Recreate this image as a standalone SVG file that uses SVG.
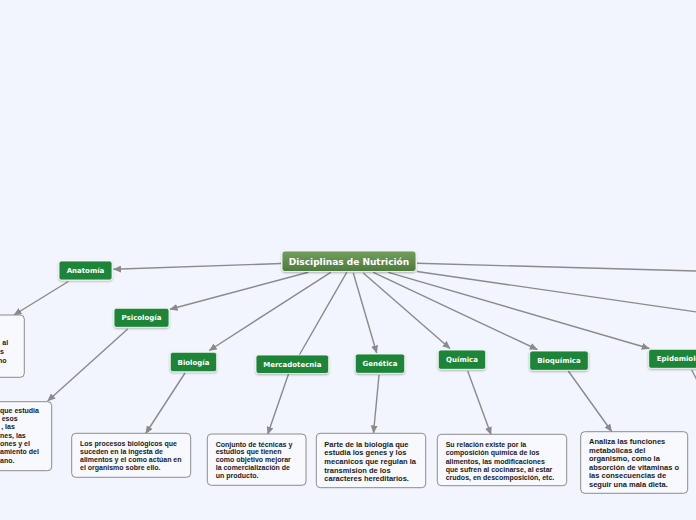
<svg xmlns="http://www.w3.org/2000/svg" width="696" height="520" viewBox="0 0 696 520">
<defs>
<linearGradient id="gc" x1="0" y1="0" x2="0" y2="1">
<stop offset="0" stop-color="#739f60"/>
<stop offset="1" stop-color="#4c7a3b"/>
</linearGradient>
<filter id="sh" x="-20%" y="-30%" width="140%" height="170%">
<feDropShadow dx="0" dy="1" stdDeviation="0.8" flood-color="#000" flood-opacity="0.3"/>
</filter>
<marker id="ar" markerUnits="userSpaceOnUse" markerWidth="8" markerHeight="7" refX="7.5" refY="3.5" orient="auto">
<path d="M0,0 L8,3.5 L0,7 z" fill="#8a8a8a"/>
</marker>
<style>
.c{fill:none;stroke:#8a8a8a;stroke-width:1.4}
.n{fill:#1d8537;stroke:#ffffff;stroke-width:0.8;filter:url(#sh)}
.nt{font-family:"DejaVu Sans",Verdana,sans-serif;font-weight:bold;font-size:7px;fill:#ffffff;text-anchor:middle}
.b{fill:#f8f9fe;stroke:#8c8c8c;stroke-width:1}
.bt{font-family:"Liberation Sans",Arial,sans-serif;font-weight:bold;font-size:7px;fill:#1a1a1a}
.bt2{font-family:"Liberation Sans",Arial,sans-serif;font-weight:bold;font-size:7.5px;fill:#1a1a1a}
</style>
</defs>
<rect width="696" height="520" fill="#f2f5fe"/>
<g id="connectors">
<path class="c" d="M281,263.5 L113.5,269.3" marker-end="url(#ar)"/>
<path class="c" d="M308.3,272.3 L170,309.3" marker-end="url(#ar)"/>
<path class="c" d="M330.7,272.3 L209.3,350.5" marker-end="url(#ar)"/>
<path class="c" d="M346.7,272.3 L299.3,355"/>
<path class="c" d="M353.3,273 L376.7,353" marker-end="url(#ar)"/>
<path class="c" d="M363.3,273 L450,348.5" marker-end="url(#ar)"/>
<path class="c" d="M373.3,272.3 L537.3,349.5" marker-end="url(#ar)"/>
<path class="c" d="M388.3,272.3 L649.3,348.5" marker-end="url(#ar)"/>
<path class="c" d="M417,263.3 L697,271"/>
<path class="c" d="M417,271.5 L697,312"/>
<path class="c" d="M68.3,281.5 L14,315" marker-end="url(#ar)"/>
<path class="c" d="M127.7,329 L47.7,401" marker-end="url(#ar)"/>
<path class="c" d="M185,373 L145.7,433.5" marker-end="url(#ar)"/>
<path class="c" d="M288.5,374 L267.7,434.3" marker-end="url(#ar)"/>
<path class="c" d="M379,375 L373.5,433" marker-end="url(#ar)"/>
<path class="c" d="M467.7,371 L491,434.5" marker-end="url(#ar)"/>
<path class="c" d="M568.3,371 L611.7,431.5" marker-end="url(#ar)"/>
<path class="c" d="M691.7,370 L698,382"/>
</g>
<g id="center">
<rect x="282" y="251" width="134" height="20.5" rx="3" fill="url(#gc)" stroke="#ffffff" stroke-width="0.8" filter="url(#sh)"/>
<text x="349" y="264.5" font-family="'DejaVu Sans',Verdana,sans-serif" font-weight="bold" font-size="9px" fill="#ffffff" text-anchor="middle">Disciplinas de Nutrición</text>
</g>
<g id="anatomia">
<rect class="n" x="59" y="261" width="53" height="19" rx="2.5"/>
<text class="nt" x="85.5" y="273">Anatomía</text>
</g>
<g id="anatomia-desc">
<rect class="b" x="-90" y="315" width="114.3" height="62.3" rx="4"/>
<text class="bt" x="2.3" y="344.8">al</text>
<text class="bt" x="0" y="354">s</text>
<text class="bt" x="-2" y="362.5">no</text>
</g>
<g id="psicologia">
<rect class="n" x="114" y="308.3" width="55" height="19" rx="2.5"/>
<text class="nt" x="141.5" y="320.3">Psicología</text>
</g>
<g id="psicologia-desc">
<rect class="b" x="-60" y="401.7" width="111.7" height="69" rx="4"/>
<text class="bt" x="0" y="412.5">que estudia</text>
<text class="bt" x="1.7" y="420.8">esos</text>
<text class="bt" x="1.2" y="429.2">, las</text>
<text class="bt" x="0" y="437.5">nes, las</text>
<text class="bt" x="0" y="445.8">ones y el</text>
<text class="bt" x="0" y="454.2">amiento del</text>
<text class="bt" x="0" y="462.5">ano.</text>
</g>
<g id="biologia">
<rect class="n" x="170.3" y="352.3" width="46.4" height="19.4" rx="2.5"/>
<text class="nt" x="193.5" y="364.5">Biología</text>
</g>
<g id="biologia-desc">
<rect class="b" x="71.7" y="433.3" width="119" height="44" rx="4"/>
<text class="bt" x="80" y="445.8">Los procesos biológicos que</text>
<text class="bt" x="80" y="453.8">suceden en la ingesta de</text>
<text class="bt" x="80" y="461.9">alimentos y el como actúan en</text>
<text class="bt" x="80" y="470.2">el organismo sobre ello.</text>
</g>
<g id="mercadotecnia">
<rect class="n" x="256" y="355" width="72.7" height="18.5" rx="2.5"/>
<text class="nt" x="292.3" y="366.8">Mercadotecnia</text>
</g>
<g id="mercadotecnia-desc">
<rect class="b" x="207.3" y="434" width="98.7" height="51.3" rx="4"/>
<text class="bt" x="215.7" y="446.5">Conjunto de técnicas y</text>
<text class="bt" x="215.7" y="454.4">estudios que tienen</text>
<text class="bt" x="215.7" y="462.2">como objetivo mejorar</text>
<text class="bt" x="215.7" y="470.2">la comercialización de</text>
<text class="bt" x="215.7" y="478.2">un producto.</text>
</g>
<g id="genetica">
<rect class="n" x="355.3" y="354" width="49.4" height="19.3" rx="2.5"/>
<text class="nt" x="380" y="366.2">Genética</text>
</g>
<g id="genetica-desc">
<rect class="b" x="316.3" y="433.3" width="109.4" height="54.4" rx="4"/>
<text class="bt2" x="324.3" y="446.7">Parte de la biologia que</text>
<text class="bt2" x="324.3" y="455.4">estudia los genes y los</text>
<text class="bt2" x="324.3" y="464">mecanicos que regulan la</text>
<text class="bt2" x="324.3" y="472.6">transmision de los</text>
<text class="bt2" x="324.3" y="480.7">caracteres hereditarios.</text>
</g>
<g id="quimica">
<rect class="n" x="438.3" y="350" width="47.4" height="19.3" rx="2.5"/>
<text class="nt" x="462" y="362.2">Química</text>
</g>
<g id="quimica-desc">
<rect class="b" x="437.3" y="434.3" width="129.4" height="51.4" rx="4"/>
<text class="bt" x="445.7" y="446.8">Su relación existe por la</text>
<text class="bt" x="445.7" y="455.3">composición química de los</text>
<text class="bt" x="445.7" y="463.5">alimentos, las modificaciones</text>
<text class="bt" x="445.7" y="471.8">que sufren al cocinarse, al estar</text>
<text class="bt" x="445.7" y="479.6">crudos, en descomposición, etc.</text>
</g>
<g id="bioquimica">
<rect class="n" x="529.7" y="351" width="58.6" height="19.3" rx="2.5"/>
<text class="nt" x="559" y="363.2">Bioquímica</text>
</g>
<g id="bioquimica-desc">
<rect class="b" x="580.7" y="431.7" width="107" height="61.6" rx="4"/>
<text class="bt2" x="589" y="444.3">Analiza las funciones</text>
<text class="bt2" x="589" y="452.7">metabólicas del</text>
<text class="bt2" x="589" y="461.3">organismo, como la</text>
<text class="bt2" x="589" y="470">absorción de vitaminas o</text>
<text class="bt2" x="589" y="478.4">las consecuencias de</text>
<text class="bt2" x="589" y="487">seguir una mala dieta.</text>
</g>
<g id="epidemiologia">
<rect class="n" x="648.7" y="349.3" width="80" height="19" rx="2.5"/>
<text class="nt" x="656.7" y="361.3" text-anchor="start" style="text-anchor:start">Epidemiología</text>
</g>
</svg>
